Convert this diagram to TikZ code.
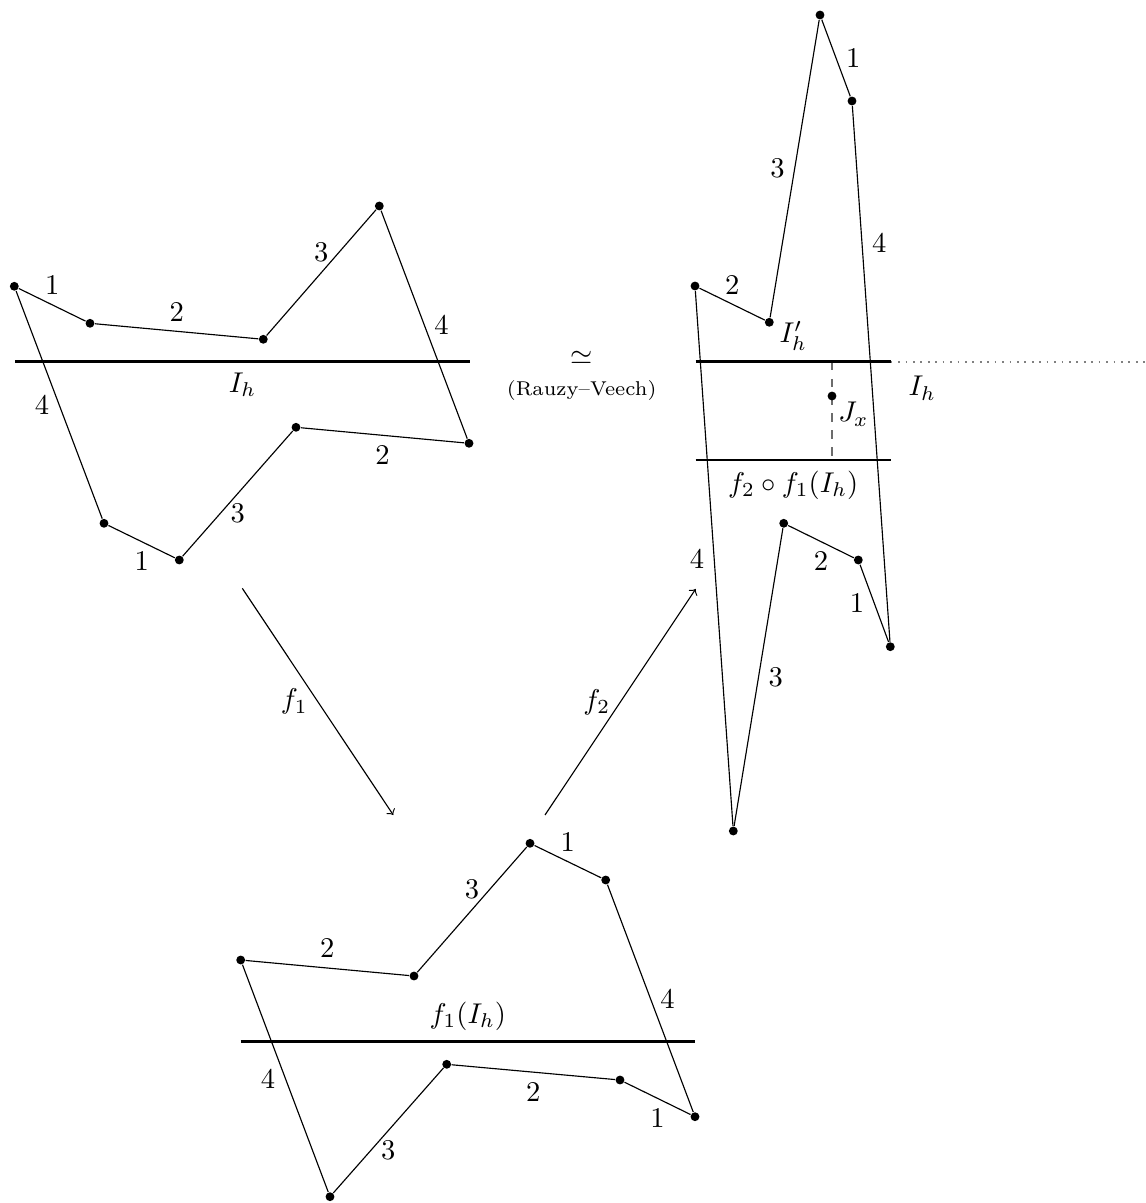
\documentclass[tikz,border=0pt]{standalone}
\begin{document}
\begin{tikzpicture}[x=0.35pt,y=-0.35pt,
  edge/.style={line width=0.4pt},
  hline/.style={line width=1pt},
  vdot/.style={circle,fill,inner sep=0pt,minimum size=3.1pt},
  mapto/.style={line width=0.4pt,->}]
\useasboundingbox (0,0) rectangle (1145,1203);

% ---------- left figure ----------
\node[vdot] (a1) at (14.3,286.3) {};
\node[vdot] (a2) at (90,323.3) {};
\node[vdot] (a3) at (263.3,339.3) {};
\node[vdot] (a4) at (379.3,206) {};
\node[vdot] (b4) at (469,443.3) {};
\node[vdot] (b3) at (296,427.3) {};
\node[vdot] (b2) at (179.3,560) {};
\node[vdot] (b1) at (104,523.3) {};
\draw[edge] (a1) -- node[above] (la1) {1} (a2);
\draw[edge] (a2) -- node[above] (la2) {2} (a3);
\draw[edge] (a3) -- node[above] (la3) {3} (a4);
\draw[edge] (a4) -- node[right] (la4) {4} (b4);
\draw[edge] (b4) -- node[below] (lb2) {2} (b3);
\draw[edge] (b3) -- node[below] (lb3) {3} (b2);
\draw[edge] (b2) -- node[below] (lb1) {1} (b1);
\draw[edge] (b1) -- node[left] (lb4) {4} (a1);
\coordinate (ih1) at (15,361.7);
\coordinate (ih2) at (470,361.7);
\draw[hline] (ih1) -- node[below] (lih) {$I_h$} (ih2);

% ---------- middle ----------
\node (sim) at (581.7,358.3) {$\simeq$};
\node[font=\scriptsize] (rv) at (581.7,390.7) {(Rauzy--Veech)};

% ---------- right figure ----------
\node[vdot] (c2l) at (695,286) {};
\node[vdot] (c2) at (769.3,322.3) {};
\node[vdot] (ct) at (820,15) {};
\node[vdot] (c1) at (852,101) {};
\node[vdot] (dr) at (890.3,646.7) {};
\node[vdot] (d2) at (858.3,560) {};
\node[vdot] (dt) at (783.7,523.3) {};
\node[vdot] (db) at (733.3,831) {};
\draw[edge] (c2l) -- node[above] (lc2) {2} (c2);
\draw[edge] (c2) -- node[left] (lc3) {3} (ct);
\draw[edge] (ct) -- node[right] (lc1) {1} (c1);
\draw[edge] (c1) -- node[pos=0.255,right] (lc4) {4} (dr);
\draw[edge] (dr) -- node[left] (ld1) {1} (d2);
\draw[edge] (d2) -- node[below] (ld2) {2} (dt);
\draw[edge] (dt) -- node[right] (ld3) {3} (db);
\draw[edge] (db) -- node[left] (ld4) {4} (c2l);
\coordinate (ip1) at (695.7,361.7);
\coordinate (ip2) at (890.7,361.7);
\coordinate (ipend) at (1145,361.7);
\coordinate (jq1) at (695.7,460);
\coordinate (jq2) at (890.7,460);
\coordinate (jt) at (832,361.7);
\coordinate (jb) at (832,460);
\draw[gray,dotted,line width=0.6pt] (ip2) -- (ipend);
\draw[gray!85!black,dashed,line width=0.5pt] (jt) -- (jb);
\draw[hline] (ip1) -- node[above] (lip) {$I'_h$} (ip2);
\draw[hline] (jq1) -- node[below] (lfi) {$f_2\circ f_1(I_h)$} (jq2);
\node (lihr) at (922.3,388.3) {$I_h$};
\node[vdot] (jx) at (832,396) {};
\node[below right,inner sep=2pt] (ljx) at (jx) {$J_x$};

% ---------- bottom figure ----------
\node[vdot] (e1) at (240.7,960) {};
\node[vdot] (e2) at (414,976) {};
\node[vdot] (e3) at (530,843.3) {};
\node[vdot] (e4) at (605.7,880) {};
\node[vdot] (fr) at (695,1116.7) {};
\node[vdot] (f1p) at (620,1080) {};
\node[vdot] (f2p) at (446.7,1064.3) {};
\node[vdot] (fb) at (330,1196.7) {};
\draw[edge] (e1) -- node[above] (le2) {2} (e2);
\draw[edge] (e2) -- node[above] (le3) {3} (e3);
\draw[edge] (e3) -- node[above] (le1) {1} (e4);
\draw[edge] (e4) -- node[right] (le4) {4} (fr);
\draw[edge] (fr) -- node[below] (lf1) {1} (f1p);
\draw[edge] (f1p) -- node[below] (lf2) {2} (f2p);
\draw[edge] (f2p) -- node[below] (lf3) {3} (fb);
\draw[edge] (fb) -- node[left] (lf4) {4} (e1);
\coordinate (g1) at (240.7,1041.7);
\coordinate (g2) at (695,1041.7);
\draw[hline] (g1) -- node[above] (lg) {$f_1(I_h)$} (g2);

% ---------- maps ----------
\coordinate (s1) at (242.3,588.3);
\coordinate (t1) at (393.3,815);
\coordinate (s2) at (545,815);
\coordinate (t2) at (695.7,589);
\draw[mapto] (s1) -- node[left] (lmf1) {$f_1$} (t1);
\draw[mapto] (s2) -- node[left] (lmf2) {$f_2$} (t2);
\end{tikzpicture}
\end{document}
